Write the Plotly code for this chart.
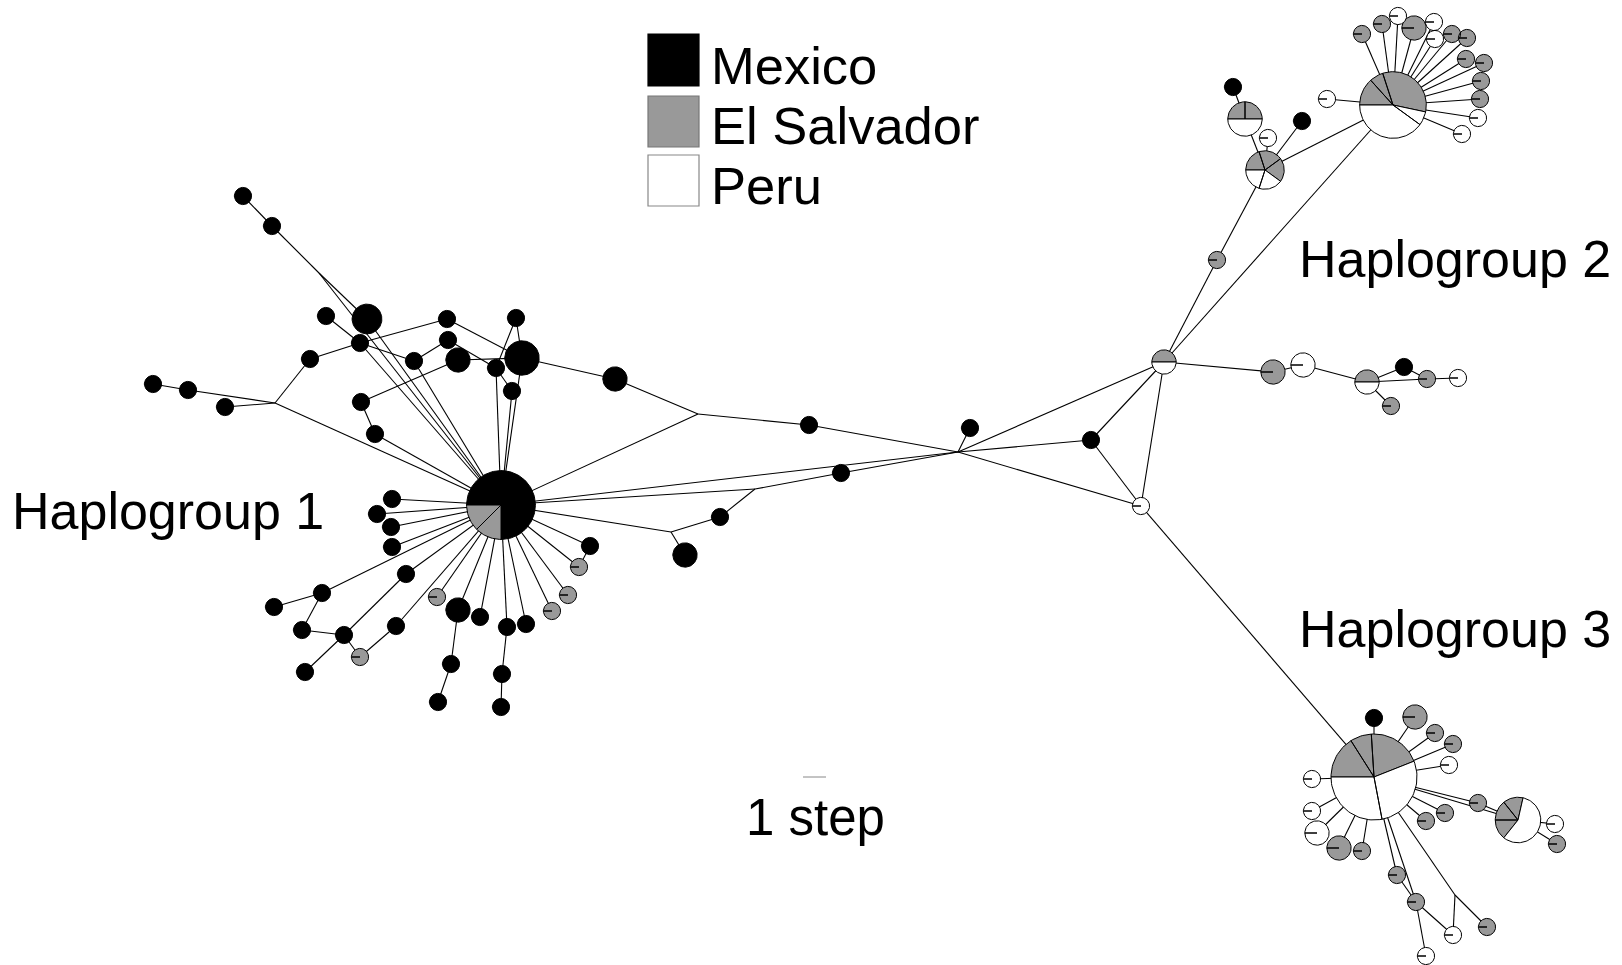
import numpy as np
import plotly.graph_objects as go

# Haplotype network: each haplotype is a pie whose slices are sample counts
# per country; junction points (median vectors) have no samples.
countries = ["Mexico", "El Salvador", "Peru"]
country_code = {"M": "Mexico", "S": "El Salvador", "P": "Peru"}
fill_colors = {"Mexico": "#000000", "El Salvador": "#999999", "Peru": "#ffffff"}

# --- Haplogroup 1 -----------------------------------------------------------
hg1_names = ["h1", "A", "B", "J1", "C", "D", "E", "F", "J2", "G", "H", "I",
             "K", "L", "M", "N", "O", "P", "Q", "R", "S", "T",
             "u1", "u2", "u3", "u4", "u5", "u6", "u7", "u8", "u9", "u10",
             "u11", "u12", "u13", "u14", "u15", "u16", "u17", "u18", "u19",
             "u20", "u21", "u22", "u23", "u24", "u25"]
hg1_x = [501, 243, 272, 319, 367, 326, 360, 310, 275, 153, 188, 225,
         447, 448, 414, 458, 496, 516, 522, 512, 361, 375,
         392, 377, 391, 392, 406, 322, 274, 302, 344, 305,
         360, 396, 437, 458, 480, 507, 526, 451, 438,
         502, 501, 590, 579, 568, 552]
hg1_y = [505, 196, 226, 273, 319, 316, 343, 359, 403, 384, 390, 407,
         319, 340, 361, 360, 368, 318, 358, 391, 402, 434,
         499, 514, 527, 547, 574, 593, 607, 630, 635, 672,
         657, 626, 597, 610, 617, 627, 624, 664, 702,
         674, 707, 546, 567, 595, 611]
hg1_counts = ["M12 S2 S2", "M1", "M1", "", "M3", "M1", "M1", "M1", "", "M1", "M1", "M1",
              "M1", "M1", "M1", "M2", "M1", "M1", "M4", "M1", "M1", "M1",
              "M1", "M1", "M1", "M1", "M1", "M1", "M1", "M1", "M1", "M1",
              "S1", "M1", "S1", "M2", "M1", "M1", "M1", "M1", "M1",
              "M1", "M1", "M1", "S1", "S1", "S1"]

# --- Links between haplogroups ---------------------------------------------
mid_names = ["v1", "J3", "v2", "J4", "v3", "J5", "v4", "v5", "J6", "v6", "v7", "X1", "X2"]
mid_x = [615, 698, 809, 958, 970, 755, 841, 720, 671, 685, 1091, 1164, 1141]
mid_y = [379, 414, 425, 452, 428, 489, 473, 517, 532, 555, 440, 362, 506]
mid_counts = ["M2", "", "M1", "", "M1", "", "M1", "M1", "", "M2", "M1", "S1 P1", "P1"]

# --- Haplogroup 2 -----------------------------------------------------------
hg2_names = ["W", "w1", "w2", "w3", "w4", "w5", "w6", "w7", "w8", "w9", "w10",
             "w11", "w12", "w13", "w14", "w15", "w16", "HA", "w17", "w18", "HB", "w19",
             "y1", "y2", "y3", "y4", "y5", "y6", "y7"]
hg2_x = [1393, 1362, 1382, 1398, 1414, 1434, 1435, 1452, 1467, 1466, 1484,
         1481, 1480, 1478, 1462, 1327, 1302, 1245, 1233, 1268, 1265, 1217,
         1273, 1303, 1367, 1404, 1427, 1458, 1391]
hg2_y = [105, 34, 24, 16, 28, 22, 39, 34, 38, 59, 63,
         81, 99, 118, 134, 99, 121, 119, 87, 138, 170, 260,
         372, 365, 382, 367, 379, 378, 406]
hg2_counts = ["S2 S1 S5 P1 P6", "S1", "S1", "P1", "S2", "P1", "P1", "S1", "S1", "S1", "S1",
              "S1", "S1", "P1", "P1", "P1", "M1", "S1 S1 P2", "M1", "P1", "S1 S1 S1 P1 P1", "S1",
              "S2", "P2", "S1 P1", "M1", "S1", "P1", "S1"]

# --- Haplogroup 3 -----------------------------------------------------------
hg3_names = ["Z", "z1", "z2", "z3", "z4", "z5", "z6", "z7", "z8", "z9", "z10",
             "z11", "z12", "z13", "ZB", "z14", "z15", "z16", "z17", "z18", "z19", "z20", "J7"]
hg3_x = [1374, 1374, 1415, 1435, 1453, 1449, 1312, 1312, 1317, 1339, 1362,
         1478, 1445, 1426, 1518, 1555, 1557, 1397, 1416, 1453, 1426, 1487, 1455]
hg3_y = [777, 718, 717, 733, 744, 765, 779, 811, 833, 848, 851,
         803, 813, 821, 820, 824, 844, 875, 902, 935, 956, 927, 895]
hg3_counts = ["S4 S2 S5 P7 P7", "M1", "S2", "S1", "S1", "P1", "P1", "P1", "P2", "S2", "S1",
              "S1", "S1", "S1", "S1 S1 P4 S1", "P1", "S1", "S1", "S1", "P1", "P1", "S1", ""]

# --- Mutational links ---------------------------------------------------------
edges = [
    # haplogroup 1
    "A-B", "B-J1", "J1-C", "J1-h1", "C-h1", "D-E", "E-h1", "E-K", "E-M", "F-E",
    "F-J2", "G-H", "H-J2", "I-J2", "J2-h1", "M-L", "M-h1", "L-O", "K-Q", "N-Q",
    "S-N", "S-T", "T-h1", "P-O", "P-Q", "O-h1", "O-R", "R-h1", "Q-h1", "Q-v1",
    "h1-u1", "h1-u2", "h1-u3", "h1-u4", "h1-u6", "u6-u7", "u6-u8", "u8-u9",
    "u9-u10", "h1-u5", "u5-u9", "u9-u11", "u11-u12", "u12-h1", "h1-u13",
    "h1-u14", "u14-u18", "u18-u19", "h1-u15", "h1-u16", "u16-u20", "u20-u21",
    "h1-u17", "h1-u25", "h1-u24", "h1-u23", "u23-u22", "h1-u22",
    # between groups
    "h1-J3", "v1-J3", "J3-v2", "v2-J4", "h1-J4", "h1-J5", "J5-v4", "v4-J4",
    "J5-v5", "v5-J6", "J6-v6", "J6-h1", "J4-v3", "J4-X1", "J4-v7", "J4-X2",
    "v7-X1", "v7-X2", "X1-X2",
    # haplogroup 2
    "X1-w19", "w19-HB", "HB-HA", "HA-w17", "HB-w18", "HB-w16", "HB-W", "W-w15",
    "X1-W", "W-w1", "W-w2", "W-w3", "W-w4", "W-w5", "W-w6", "W-w7", "W-w8",
    "W-w9", "W-w10", "W-w11", "W-w12", "W-w13", "W-w14",
    "X1-y1", "y1-y2", "y2-y3", "y3-y4", "y4-y5", "y3-y5", "y5-y6", "y3-y7",
    # haplogroup 3
    "X2-Z", "Z-z1", "Z-z2", "Z-z3", "Z-z4", "Z-z5", "Z-z6", "Z-z7", "Z-z8",
    "Z-z9", "Z-z10", "Z-z12", "Z-z13", "Z-z11", "z11-ZB", "Z-ZB", "ZB-z14",
    "ZB-z15", "Z-z16", "z16-z17", "Z-z17", "z17-z19", "z17-z18", "z18-J7",
    "J7-z20", "J7-Z",
]

UNIT_RADIUS = 8.6  # radius of a haplotype seen once

names = hg1_names + mid_names + hg2_names + hg3_names
xs = hg1_x + mid_x + hg2_x + hg3_x
ys = hg1_y + mid_y + hg2_y + hg3_y
counts = hg1_counts + mid_counts + hg2_counts + hg3_counts
pos = {n: (x, y) for n, x, y in zip(names, xs, ys)}


def parse_slices(spec):
    return [(country_code[t[0]], int(t[1:])) for t in spec.split()]


fig = go.Figure()

# links
ex, ey = [], []
for e in edges:
    a, b = e.split("-")
    ex += [pos[a][0], pos[b][0], None]
    ey += [pos[a][1], pos[b][1], None]
fig.add_trace(go.Scatter(x=ex, y=ey, mode="lines",
                         line=dict(color="black", width=1.1),
                         hoverinfo="skip", showlegend=False))

# pies: slices start at the left and run clockwise
polys = {c: ([], []) for c in countries}
for n, x, y, spec in zip(names, xs, ys, counts):
    slices = parse_slices(spec)
    total = sum(k for _, k in slices)
    if total == 0:
        continue
    r = UNIT_RADIUS * np.sqrt(total)
    a = 180.0
    for country, k in slices:
        span = 360.0 * k / total
        ang = np.radians(np.linspace(a, a - span, max(6, int(span / 3) + 2)))
        px = [x] + list(x + r * np.cos(ang)) + [x]
        py = [y] + list(y - r * np.sin(ang)) + [y]
        polys[country][0].extend(px + [None])
        polys[country][1].extend(py + [None])
        a -= span

for c in ["Mexico", "El Salvador", "Peru"]:
    px, py = polys[c]
    fig.add_trace(go.Scatter(x=px, y=py, mode="lines", fill="toself",
                             fillcolor=fill_colors[c],
                             line=dict(color="black", width=1),
                             hoverinfo="skip", showlegend=False))

FONT = "Liberation Sans, Arial, sans-serif"

# legend boxes
legend_rows = [("Mexico", 34, 86, "#000000", 65),
               ("El Salvador", 96, 147, "#777777", 125),
               ("Peru", 155, 206, "#888888", 185)]
for label, y0, y1, edge_col, ty in legend_rows:
    fig.add_shape(type="rect", x0=648, x1=699, y0=y0, y1=y1, xref="x", yref="y",
                  fillcolor=fill_colors[label], line=dict(color=edge_col, width=1.2))
    fig.add_annotation(x=709, y=ty, text=label, showarrow=False,
                       xanchor="left", yanchor="middle", xref="x", yref="y",
                       font=dict(family=FONT, size=52.5, color="black"))

# group labels
for label, lx, ly in [("Haplogroup 1", 10, 511), ("Haplogroup 2", 1297, 259),
                      ("Haplogroup 3", 1297, 629)]:
    fig.add_annotation(x=lx, y=ly, text=label, showarrow=False,
                       xanchor="left", yanchor="middle", xref="x", yref="y",
                       font=dict(family=FONT, size=52, color="black"))

# scale bar: one mutational step
fig.add_shape(type="line", x0=803, x1=826, y0=777, y1=777, xref="x", yref="y",
              line=dict(color="#888888", width=1))
fig.add_annotation(x=815, y=817, text="1 step", showarrow=False,
                   xanchor="center", yanchor="middle", xref="x", yref="y",
                   font=dict(family=FONT, size=51, color="black"))

fig.update_layout(
    width=1622, height=965, autosize=False,
    margin=dict(l=0, r=0, t=0, b=0),
    paper_bgcolor="white", plot_bgcolor="white",
    xaxis=dict(range=[0, 1622], visible=False, fixedrange=True),
    yaxis=dict(range=[965, 0], visible=False, fixedrange=True),
    showlegend=False,
)

fig.write_html("out.html")
